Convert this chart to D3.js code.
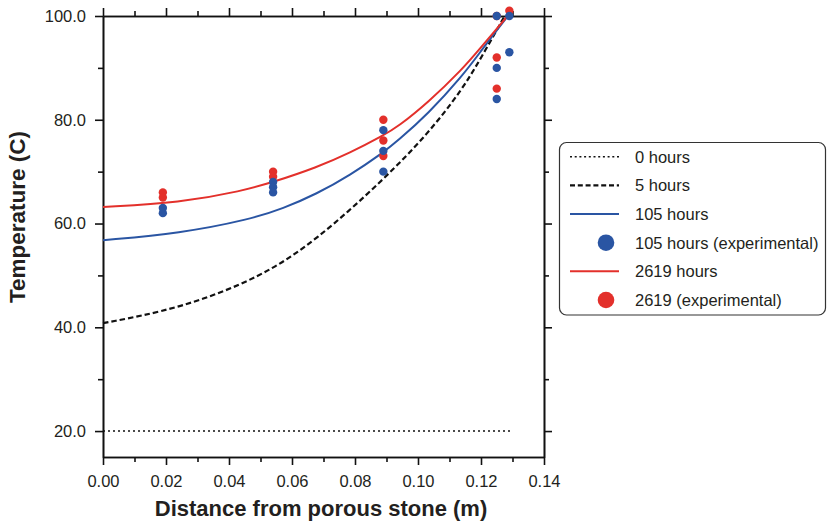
<!DOCTYPE html>
<html>
<head>
<meta charset="utf-8">
<script src="https://cdn.jsdelivr.net/npm/d3@7"></script>
<style>
  html, body { margin: 0; padding: 0; background: #fff; }
  svg { display: block; }
  text { font-family: "Liberation Sans", Arial, Helvetica, sans-serif; fill: #231f20; }
</style>
</head>
<body>
<div id="chart"></div>
<script>
// ---------- data ----------
const xMajorTicks = [0, 0.02, 0.04, 0.06, 0.08, 0.10, 0.12, 0.14];
const xMinorTicks = [0.01, 0.03, 0.05, 0.07, 0.09, 0.11, 0.13];
const yMajorTicks = [20, 40, 60, 80, 100];
const yMinorTicks = [30, 50, 70, 90];

const curve0h = [[0, 20], [0.13, 20]];
const curve5h = [[0, 40.8], [0.0244, 43.6], [0.05, 49.6], [0.0678, 56.8],
  [0.089, 68.4], [0.1033, 77.4], [0.1139, 85.7], [0.1202, 92.1], [0.1275, 100]];
const curve105h = [[0, 56.8], [0.0244, 58.1], [0.0467, 60.8], [0.0572, 62.9], [0.0678, 65.7],
  [0.0784, 69.3], [0.089, 73.7], [0.0935, 75.9], [0.1033, 81.2], [0.1139, 88.3],
  [0.1202, 93.4], [0.1244, 96.8], [0.1285, 100]];
const curve2619h = [[0, 63.2], [0.0244, 64.0], [0.0444, 66.3], [0.0541, 68.0], [0.0678, 70.8],
  [0.0784, 73.6], [0.089, 77.0], [0.0935, 78.6], [0.1033, 83.4], [0.1139, 89.6],
  [0.1202, 94.1], [0.1244, 97.1], [0.1284, 100]];

const exp105 = [[0.019, 63], [0.019, 62], [0.054, 68], [0.054, 67], [0.054, 66],
  [0.089, 78], [0.089, 74], [0.089, 70], [0.125, 100], [0.125, 90], [0.125, 84],
  [0.129, 100], [0.129, 93]];
const exp2619 = [[0.019, 66], [0.019, 65], [0.054, 70], [0.054, 69],
  [0.089, 80], [0.089, 76], [0.089, 73], [0.125, 100], [0.125, 92], [0.125, 86],
  [0.129, 101]];

const legendLabels = ["0 hours", "5 hours", "105 hours", "105 hours (experimental)", "2619 hours", "2619 (experimental)"];

// ---------- styles ----------
const BLUE = "#2a55a3";
const RED = "#e3302b";

const W = 827, H = 521;
const svg = d3.select("#chart").append("svg").attr("width", W).attr("height", H);

const x = d3.scaleLinear().domain([0, 0.14]).range([103, 544]);
const y = d3.scaleLinear().domain([15, 100]).range([457, 16]);

function styleAxis(g) {
  g.selectAll("path.domain").attr("stroke", "#111").attr("stroke-width", 1.6);
  g.selectAll(".tick line").attr("stroke", "#111").attr("stroke-width", 1.6);
  g.selectAll(".tick text").style("font-size", "16.5px").attr("fill", "#231f20");
}

// minor ticks
svg.append("g").attr("transform", `translate(0,${y.range()[0]})`)
  .call(d3.axisBottom(x).tickValues(xMinorTicks).tickSize(5).tickSizeOuter(0).tickFormat(""))
  .call(styleAxis);
svg.append("g").attr("transform", `translate(0,${y.range()[1]})`)
  .call(d3.axisTop(x).tickValues(xMinorTicks).tickSize(5).tickSizeOuter(0).tickFormat(""))
  .call(styleAxis);
svg.append("g").attr("transform", `translate(${x.range()[0]},0)`)
  .call(d3.axisLeft(y).tickValues(yMinorTicks).tickSize(5).tickSizeOuter(0).tickFormat(""))
  .call(styleAxis);
svg.append("g").attr("transform", `translate(${x.range()[1]},0)`)
  .call(d3.axisRight(y).tickValues(yMinorTicks).tickSize(5).tickSizeOuter(0).tickFormat(""))
  .call(styleAxis);

// major ticks
svg.append("g").attr("transform", `translate(0,${y.range()[0]})`)
  .call(d3.axisBottom(x).tickValues(xMajorTicks).tickSize(8).tickSizeOuter(0).tickPadding(10).tickFormat(d3.format(".2f")))
  .call(styleAxis);
svg.append("g").attr("transform", `translate(0,${y.range()[1]})`)
  .call(d3.axisTop(x).tickValues(xMajorTicks).tickSize(8).tickSizeOuter(0).tickFormat(""))
  .call(styleAxis);
svg.append("g").attr("transform", `translate(${x.range()[0]},0)`)
  .call(d3.axisLeft(y).tickValues(yMajorTicks).tickSize(8).tickSizeOuter(0).tickPadding(9).tickFormat(d3.format(".1f")))
  .call(styleAxis);
svg.append("g").attr("transform", `translate(${x.range()[1]},0)`)
  .call(d3.axisRight(y).tickValues(yMajorTicks).tickSize(8).tickSizeOuter(0).tickFormat(""))
  .call(styleAxis);

// axis titles
svg.append("text")
  .attr("x", 321).attr("y", 516)
  .attr("text-anchor", "middle")
  .style("font-size", "22px").style("font-weight", "bold")
  .text("Distance from porous stone (m)");
svg.append("text")
  .attr("transform", "translate(25,217) rotate(-90)")
  .attr("text-anchor", "middle")
  .style("font-size", "22.5px").style("font-weight", "bold")
  .text("Temperature (C)");

// curves
const line = d3.line().x(d => x(d[0])).y(d => y(d[1])).curve(d3.curveBasis);
const curves = [
  { data: curve0h, color: "#111", width: 1.6, dash: "2,3" },
  { data: curve5h, color: "#111", width: 2.2, dash: "5.5,3" },
  { data: curve105h, color: BLUE, width: 2, dash: null },
  { data: curve2619h, color: RED, width: 2, dash: null }
];
svg.append("g").selectAll("path").data(curves).join("path")
  .attr("d", d => line(d.data))
  .attr("fill", "none")
  .attr("stroke", d => d.color)
  .attr("stroke-width", d => d.width)
  .attr("stroke-dasharray", d => d.dash);

// experimental points (red under blue)
svg.append("g").selectAll("circle").data(exp2619).join("circle")
  .attr("cx", d => x(d[0])).attr("cy", d => y(d[1])).attr("r", 4.2).attr("fill", RED);
svg.append("g").selectAll("circle").data(exp105).join("circle")
  .attr("cx", d => x(d[0])).attr("cy", d => y(d[1])).attr("r", 4.2).attr("fill", BLUE);

// legend
const lg = svg.append("g");
lg.append("rect")
  .attr("x", 559.5).attr("y", 142.5).attr("width", 266).attr("height", 172.5)
  .attr("rx", 7).attr("ry", 7)
  .attr("fill", "#fff").attr("stroke", "#333").attr("stroke-width", 1.2);
const rowY = [156.7, 185.3, 214, 242.7, 271.3, 300];
const legendItems = [
  { type: "line", color: "#111", width: 1.6, dash: "2,2.7" },
  { type: "line", color: "#111", width: 2.2, dash: "5,2.8" },
  { type: "line", color: BLUE, width: 2, dash: null },
  { type: "dot", color: BLUE },
  { type: "line", color: RED, width: 2, dash: null },
  { type: "dot", color: RED }
];
legendItems.forEach((it, i) => {
  if (it.type === "line") {
    lg.append("line")
      .attr("x1", 570).attr("x2", 619).attr("y1", rowY[i]).attr("y2", rowY[i])
      .attr("stroke", it.color).attr("stroke-width", it.width)
      .attr("stroke-dasharray", it.dash);
  } else {
    lg.append("circle").attr("cx", 606).attr("cy", rowY[i]).attr("r", 8.3).attr("fill", it.color);
  }
  lg.append("text")
    .attr("x", 635).attr("y", rowY[i]).attr("dy", "0.36em")
    .style("font-size", "16.5px")
    .text(legendLabels[i]);
});
</script>
</body>
</html>
